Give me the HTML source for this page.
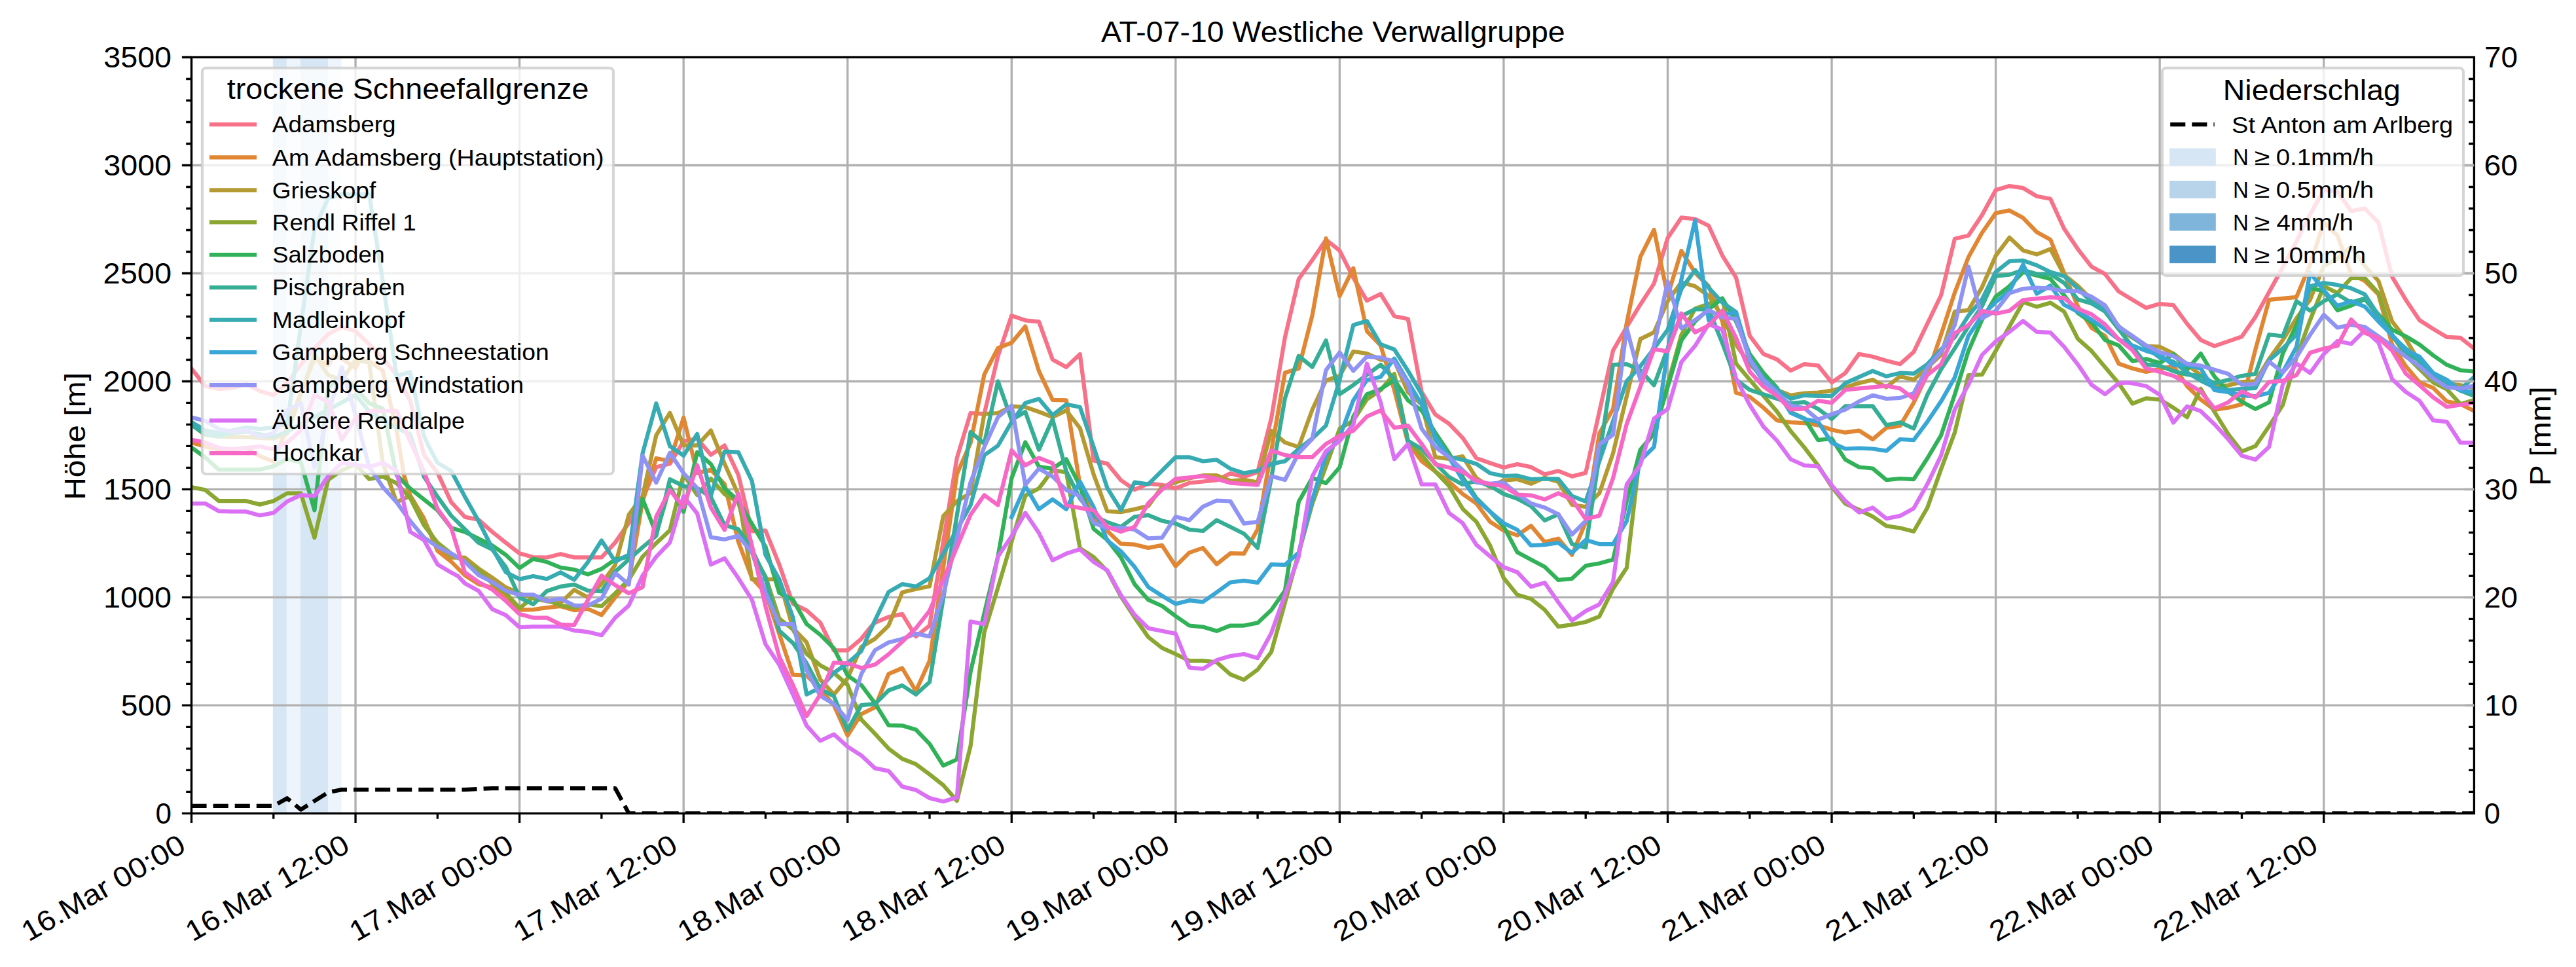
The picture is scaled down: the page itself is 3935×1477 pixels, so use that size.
<!DOCTYPE html><html><head><meta charset="utf-8"><style>html,body{margin:0;padding:0;background:#fff;}svg{display:block;}text{font-family:"Liberation Sans",sans-serif;}</style></head><body>
<svg width="3935" height="1477" viewBox="0 0 3935 1477">
<rect width="3935" height="1477" fill="#fff"/>
<defs><clipPath id="ax"><rect x="292.5" y="87.5" width="3486.9" height="1154.9"/></clipPath></defs>
<rect x="416.80" y="87.5" width="21.10" height="1154.90" fill="#d6e6f4"/>
<rect x="437.90" y="87.5" width="21.00" height="1154.90" fill="#eef4fb"/>
<rect x="458.90" y="87.5" width="42.10" height="1154.90" fill="#d6e6f4"/>
<rect x="501.00" y="87.5" width="20.70" height="1154.90" fill="#eef4fb"/>
<path d="M292.50 87.5V1242.4M543.06 87.5V1242.4M793.61 87.5V1242.4M1044.17 87.5V1242.4M1294.72 87.5V1242.4M1545.28 87.5V1242.4M1795.83 87.5V1242.4M2046.39 87.5V1242.4M2296.95 87.5V1242.4M2547.50 87.5V1242.4M2798.06 87.5V1242.4M3048.61 87.5V1242.4M3299.17 87.5V1242.4M3549.72 87.5V1242.4M292.5 1077.41H3779.4M292.5 912.43H3779.4M292.5 747.44H3779.4M292.5 582.46H3779.4M292.5 417.47H3779.4M292.5 252.49H3779.4" stroke="#b0b0b0" stroke-width="3.33" fill="none"/>
<g clip-path="url(#ax)" fill="none" stroke-width="6.25" stroke-linejoin="round" stroke-linecap="square">
<path d="M292.5 563.1 L313.4 589.5 L334.3 594.1 L355.1 592.6 L376.0 586.4 L396.9 597.2 L417.8 603.4 L438.7 584.8 L459.5 556.9 L480.4 532.1 L501.3 510.3 L522.2 499.5 L543.1 505.7 L563.9 525.8 L584.8 547.6 L605.7 572.4 L626.6 612.3 L647.5 694.6 L668.3 722.1 L689.2 766.9 L710.1 789.6 L731.0 793.8 L751.9 812.4 L772.7 829.0 L793.6 845.3 L814.5 851.0 L835.4 851.5 L856.3 846.2 L877.1 851.4 L898.0 851.4 L918.9 851.4 L939.8 828.6 L960.6 798.6 L981.5 762.1 L1002.4 713.5 L1023.3 708.3 L1044.2 674.1 L1065.0 670.0 L1085.9 694.8 L1106.8 680.4 L1127.7 724.8 L1148.6 811.4 L1169.4 810.3 L1190.3 862.1 L1211.2 922.1 L1232.1 932.4 L1253.0 951.0 L1273.8 993.4 L1294.7 993.4 L1315.6 975.8 L1330.0 957.6 L1336.5 951.0 L1357.4 942.4 L1378.2 937.8 L1399.1 972.1 L1420.0 955.5 L1461.8 699.3 L1482.6 631.0 L1503.5 632.1 L1524.4 544.1 L1545.3 482.1 L1566.2 489.3 L1587.0 491.4 L1607.9 549.3 L1628.8 560.7 L1649.7 541.0 L1670.6 703.5 L1691.4 708.1 L1712.3 733.5 L1733.2 747.9 L1754.1 738.6 L1775.0 740.7 L1795.8 745.9 L1816.7 737.6 L1837.6 735.5 L1858.5 733.5 L1879.4 723.1 L1900.2 728.3 L1921.1 721.0 L1942.0 638.9 L1962.9 515.2 L1983.8 426.2 L2004.6 397.2 L2025.5 366.2 L2046.4 382.8 L2067.3 424.1 L2088.1 459.3 L2109.0 449.0 L2129.9 482.9 L2150.8 487.2 L2171.7 599.0 L2192.5 633.1 L2213.4 647.1 L2234.3 668.8 L2255.2 699.7 L2276.1 707.2 L2296.9 714.0 L2317.8 709.0 L2338.7 713.4 L2359.6 724.5 L2380.5 719.3 L2401.3 727.6 L2422.2 722.4 L2464.0 535.5 L2484.9 499.3 L2505.7 465.2 L2526.6 433.1 L2547.5 363.5 L2568.4 332.4 L2589.3 334.5 L2610.1 344.8 L2631.0 390.3 L2651.9 423.8 L2672.8 512.8 L2693.7 540.7 L2714.5 549.0 L2735.4 566.0 L2756.3 556.2 L2777.2 558.3 L2798.1 584.1 L2818.9 569.7 L2839.8 540.7 L2860.7 544.8 L2881.6 551.0 L2902.5 556.2 L2923.3 537.6 L2965.1 451.0 L2986.0 364.8 L3006.9 359.7 L3027.7 328.6 L3048.6 290.3 L3069.5 284.1 L3090.4 287.2 L3111.3 299.7 L3132.1 303.8 L3153.0 349.3 L3173.9 380.3 L3194.8 407.2 L3215.6 418.6 L3236.5 445.2 L3257.4 457.9 L3278.3 470.3 L3299.2 464.1 L3320.0 466.2 L3340.9 494.5 L3361.8 519.3 L3382.7 528.6 L3403.6 521.4 L3424.4 514.2 L3445.3 484.1 L3487.1 408.3 L3508.0 369.0 L3528.8 327.6 L3549.7 290.3 L3570.6 292.4 L3591.5 322.4 L3612.4 318.3 L3633.2 340.0 L3654.1 422.8 L3675.0 457.9 L3695.9 489.0 L3716.8 502.4 L3737.6 514.8 L3758.5 515.9 L3779.4 532.4" stroke="#f77189"/>
<path d="M292.5 675.9 L313.4 682.1 L334.3 686.2 L355.1 686.2 L376.0 684.2 L396.9 696.6 L417.8 704.8 L480.4 547.6 L501.3 557.9 L509.2 544.5 L522.2 547.6 L543.1 562.1 L549.5 549.1 L563.9 551.7 L584.8 566.2 L605.7 656.5 L617.0 725.5 L626.6 756.6 L647.5 791.7 L668.3 841.4 L689.2 857.9 L710.1 878.6 L731.0 892.1 L751.9 897.2 L772.7 909.7 L793.6 931.7 L814.5 931.2 L835.4 928.1 L856.3 925.9 L877.1 932.1 L898.0 930.0 L918.9 939.3 L939.8 912.4 L960.6 887.6 L981.5 766.2 L1002.4 700.0 L1023.3 704.2 L1044.2 637.9 L1065.0 722.8 L1085.9 717.6 L1106.8 739.3 L1127.7 826.9 L1148.6 882.8 L1169.4 905.5 L1211.2 1030.7 L1232.1 1031.7 L1253.0 1052.4 L1273.8 1077.2 L1294.7 1123.5 L1315.6 1090.7 L1336.5 1080.4 L1357.4 1029.3 L1378.2 1020.5 L1399.1 1055.5 L1420.0 1009.3 L1461.8 724.1 L1482.6 676.6 L1503.5 572.1 L1524.4 531.7 L1545.3 523.5 L1566.2 498.6 L1587.0 566.9 L1607.9 610.9 L1628.8 611.4 L1649.7 740.7 L1670.6 792.9 L1691.4 811.0 L1712.3 830.7 L1733.2 831.7 L1754.1 836.9 L1775.0 832.8 L1795.8 864.8 L1816.7 844.1 L1837.6 836.9 L1858.5 861.7 L1879.4 845.2 L1900.2 845.7 L1921.1 808.5 L1962.9 569.2 L1983.8 563.0 L2004.6 481.7 L2025.5 364.1 L2046.4 452.1 L2067.3 409.7 L2088.1 505.9 L2109.0 527.6 L2129.9 595.9 L2150.8 676.5 L2171.7 704.4 L2192.5 720.0 L2213.4 735.7 L2234.3 754.5 L2255.2 769.0 L2276.1 796.9 L2296.9 810.3 L2317.8 817.6 L2338.7 803.1 L2359.6 827.9 L2380.5 822.7 L2401.3 847.6 L2422.2 797.9 L2443.1 662.0 L2464.0 624.8 L2484.9 493.1 L2505.7 392.4 L2526.6 351.0 L2547.5 451.7 L2568.4 383.1 L2589.3 416.5 L2610.1 437.2 L2631.0 491.0 L2651.9 599.8 L2672.8 606.1 L2693.7 622.6 L2714.5 642.1 L2735.4 645.2 L2756.3 646.2 L2777.2 649.3 L2798.1 656.5 L2818.9 660.7 L2839.8 657.6 L2860.7 671.0 L2881.6 653.4 L2902.5 650.3 L2923.3 615.2 L2944.2 571.7 L2965.1 511.0 L2986.0 446.9 L3006.9 392.8 L3027.7 355.5 L3048.6 325.5 L3069.5 321.4 L3090.4 332.8 L3111.3 354.5 L3132.1 365.9 L3173.9 467.6 L3194.8 500.7 L3215.6 513.1 L3236.5 555.5 L3257.4 562.8 L3278.3 567.9 L3299.2 563.8 L3320.0 558.6 L3340.9 589.7 L3361.8 610.3 L3382.7 625.8 L3403.6 622.7 L3424.4 617.6 L3445.3 533.8 L3466.2 457.9 L3487.1 455.8 L3508.0 453.8 L3528.8 404.1 L3549.7 340.0 L3570.6 359.7 L3591.5 418.6 L3612.4 429.0 L3633.2 449.6 L3654.1 526.2 L3675.0 559.3 L3695.9 584.1 L3716.8 592.4 L3737.6 613.1 L3758.5 617.2 L3779.4 627.6" stroke="#e18632"/>
<path d="M292.5 648.3 L313.4 664.4 L334.3 666.6 L355.1 667.6 L376.0 667.6 L396.9 668.9 L417.8 669.9 L438.7 662.3 L459.5 602.7 L480.4 541.4 L501.3 572.7 L522.2 581.0 L543.1 549.7 L563.9 553.8 L584.8 707.4 L605.7 766.9 L626.6 757.6 L647.5 795.8 L668.3 833.1 L689.2 851.7 L710.1 851.7 L731.0 868.3 L751.9 882.4 L772.7 897.2 L793.6 906.4 L814.5 914.1 L835.4 918.3 L856.3 920.7 L877.1 901.0 L898.0 912.4 L918.9 891.7 L939.8 862.8 L960.6 786.2 L981.5 757.9 L1002.4 664.8 L1023.3 630.7 L1044.2 680.4 L1065.0 680.4 L1085.9 657.6 L1106.8 708.3 L1127.7 755.2 L1148.6 884.8 L1169.4 884.8 L1190.3 884.8 L1211.2 959.3 L1232.1 981.0 L1253.0 1037.9 L1273.8 1060.7 L1294.7 1035.9 L1315.6 988.3 L1336.5 975.8 L1357.4 955.4 L1378.2 904.8 L1399.1 899.7 L1420.0 895.5 L1440.9 788.3 L1461.8 765.5 L1482.6 753.1 L1503.5 632.1 L1524.4 631.0 L1545.3 620.7 L1566.2 621.7 L1587.0 629.0 L1607.9 637.2 L1628.8 626.9 L1649.7 653.8 L1670.6 724.6 L1691.4 781.0 L1712.3 782.1 L1733.2 777.9 L1754.1 772.8 L1775.0 743.8 L1795.8 736.6 L1816.7 730.4 L1837.6 726.2 L1858.5 726.2 L1879.4 734.5 L1900.2 732.9 L1921.1 736.6 L1942.0 657.9 L1962.9 675.9 L1983.8 682.7 L2004.6 625.7 L2025.5 581.0 L2046.4 574.1 L2067.3 536.9 L2088.1 540.0 L2109.0 549.3 L2129.9 550.8 L2150.8 599.0 L2171.7 617.6 L2192.5 698.2 L2213.4 700.9 L2234.3 697.2 L2255.2 730.1 L2276.1 743.8 L2296.9 733.8 L2317.8 732.0 L2338.7 738.8 L2359.6 729.7 L2380.5 735.9 L2401.3 771.0 L2422.2 774.1 L2443.1 753.4 L2464.0 692.4 L2505.7 517.9 L2526.6 507.6 L2547.5 460.0 L2568.4 431.0 L2589.3 437.2 L2610.1 451.7 L2631.0 483.5 L2651.9 526.4 L2672.8 556.1 L2693.7 577.5 L2714.5 595.7 L2735.4 603.8 L2756.3 600.7 L2777.2 599.6 L2798.1 596.5 L2818.9 591.4 L2839.8 585.2 L2860.7 580.0 L2881.6 591.4 L2902.5 574.8 L2923.3 580.0 L2944.2 561.4 L2965.1 541.9 L2986.0 475.9 L3006.9 473.8 L3027.7 438.6 L3048.6 390.7 L3069.5 362.8 L3090.4 382.4 L3111.3 388.6 L3132.1 380.3 L3153.0 419.6 L3173.9 436.4 L3194.8 457.2 L3215.6 475.9 L3236.5 502.8 L3278.3 528.6 L3299.2 529.7 L3320.0 540.0 L3382.7 589.7 L3403.6 588.6 L3424.4 583.4 L3445.3 582.4 L3466.2 548.3 L3487.1 519.3 L3508.0 486.2 L3528.8 457.9 L3549.7 406.2 L3570.6 394.8 L3591.5 376.2 L3612.4 406.2 L3633.2 429.0 L3654.1 491.0 L3675.0 517.9 L3695.9 553.1 L3716.8 575.9 L3737.6 586.2 L3758.5 588.3 L3779.4 592.4" stroke="#b59a32"/>
<path d="M292.5 744.1 L313.4 748.3 L334.3 765.2 L355.1 765.2 L376.0 765.2 L396.9 770.6 L417.8 765.2 L438.7 753.4 L459.5 753.4 L480.4 821.3 L501.3 732.8 L522.2 718.3 L543.1 709.0 L563.9 731.7 L584.8 728.0 L605.7 737.9 L626.6 760.7 L647.5 802.1 L668.3 829.0 L689.2 845.5 L710.1 857.9 L731.0 870.4 L751.9 891.0 L772.7 905.5 L793.6 929.1 L814.5 912.1 L835.4 916.6 L856.3 924.8 L877.1 927.9 L898.0 922.8 L918.9 925.9 L939.8 906.2 L960.6 885.5 L981.5 850.4 L1002.4 829.6 L1023.3 810.0 L1044.2 724.8 L1065.0 755.9 L1085.9 731.0 L1106.8 754.7 L1127.7 766.5 L1148.6 843.5 L1169.4 880.7 L1190.3 944.8 L1211.2 961.4 L1232.1 998.6 L1253.0 1016.2 L1273.8 1027.6 L1294.7 1046.2 L1315.6 1099.0 L1336.5 1120.7 L1357.4 1143.4 L1378.2 1159.0 L1399.1 1167.2 L1420.0 1182.8 L1440.9 1199.3 L1461.8 1223.1 L1482.6 1139.3 L1503.5 965.9 L1524.4 897.6 L1566.2 757.1 L1587.0 746.1 L1607.9 718.1 L1628.8 721.3 L1649.7 837.3 L1670.6 850.9 L1691.4 872.1 L1712.3 911.0 L1733.2 943.1 L1754.1 973.1 L1775.0 989.6 L1795.8 999.0 L1816.7 1009.3 L1837.6 1009.3 L1858.5 1011.4 L1879.4 1030.0 L1900.2 1038.3 L1921.1 1022.8 L1942.0 995.9 L2004.6 769.6 L2046.4 654.8 L2067.3 642.4 L2088.1 609.8 L2109.0 595.9 L2129.9 571.0 L2150.8 673.4 L2171.7 695.1 L2192.5 720.0 L2213.4 742.1 L2234.3 777.2 L2255.2 796.9 L2276.1 833.1 L2296.9 882.8 L2317.8 908.6 L2338.7 914.8 L2359.6 931.4 L2380.5 957.2 L2401.3 954.1 L2422.2 950.0 L2443.1 941.7 L2464.0 899.3 L2484.9 867.3 L2505.7 688.9 L2526.6 662.0 L2568.4 511.7 L2589.3 471.4 L2610.1 464.1 L2631.0 455.8 L2651.9 555.2 L2672.8 580.0 L2714.5 628.6 L2735.4 658.6 L2756.3 683.5 L2777.2 710.8 L2798.1 743.5 L2818.9 769.3 L2839.8 778.6 L2860.7 789.0 L2881.6 803.4 L2902.5 806.5 L2923.3 811.7 L2944.2 775.5 L2965.1 716.6 L2986.0 660.7 L3006.9 573.1 L3027.7 572.1 L3048.6 535.9 L3069.5 498.6 L3090.4 461.4 L3111.3 468.6 L3132.1 462.4 L3153.0 475.9 L3173.9 517.3 L3194.8 535.9 L3215.6 560.7 L3236.5 585.5 L3257.4 616.5 L3278.3 608.3 L3299.2 610.3 L3320.0 622.7 L3340.9 637.2 L3361.8 593.8 L3382.7 629.0 L3403.6 662.9 L3424.4 689.7 L3445.3 681.4 L3466.2 651.0 L3487.1 618.6 L3508.0 545.5 L3528.8 489.0 L3549.7 437.2 L3570.6 447.6 L3591.5 424.8 L3612.4 424.8 L3633.2 447.6 L3654.1 511.7 L3675.0 542.8 L3695.9 563.5 L3716.8 584.1 L3737.6 594.5 L3758.5 617.2 L3779.4 611.0" stroke="#8ba731"/>
<path d="M292.5 683.6 L313.4 698.6 L334.3 717.3 L355.1 717.3 L376.0 717.3 L396.9 717.3 L417.8 712.1 L438.7 701.2 L459.5 705.9 L480.4 779.3 L501.3 593.1 L522.2 572.4 L543.1 593.1 L563.9 615.9 L584.8 624.1 L605.7 725.5 L626.6 746.2 L647.5 762.8 L668.3 779.3 L689.2 806.2 L710.1 812.4 L731.0 822.7 L751.9 833.1 L772.7 847.6 L793.6 867.6 L814.5 853.6 L835.4 858.3 L856.3 866.9 L877.1 870.0 L898.0 877.3 L918.9 869.0 L939.8 854.5 L960.6 850.4 L981.5 762.0 L1002.4 815.3 L1023.3 743.3 L1044.2 781.7 L1065.0 690.6 L1085.9 708.8 L1106.8 745.9 L1127.7 764.5 L1148.6 800.0 L1169.4 835.2 L1190.3 905.5 L1211.2 915.9 L1232.1 953.1 L1253.0 969.6 L1273.8 990.3 L1294.7 1031.7 L1315.6 1046.2 L1336.5 1074.1 L1357.4 1107.8 L1378.2 1108.3 L1399.1 1114.5 L1420.0 1136.2 L1440.9 1169.3 L1461.8 1160.0 L1482.6 1025.9 L1503.5 936.9 L1524.4 850.0 L1545.3 730.4 L1566.2 675.5 L1587.0 712.8 L1607.9 715.9 L1628.8 701.4 L1649.7 742.2 L1670.6 807.9 L1691.4 824.5 L1712.3 851.4 L1733.2 892.4 L1754.1 916.2 L1775.0 925.5 L1795.8 941.0 L1816.7 955.5 L1837.6 957.6 L1858.5 963.8 L1879.4 955.5 L1900.2 955.5 L1921.1 951.4 L1942.0 931.7 L1962.9 902.1 L1983.8 766.5 L2004.6 729.9 L2025.5 738.0 L2046.4 713.8 L2067.3 636.2 L2088.1 602.1 L2109.0 594.3 L2129.9 580.3 L2150.8 611.4 L2171.7 626.9 L2192.5 661.0 L2213.4 692.0 L2234.3 728.9 L2255.2 760.7 L2276.1 781.4 L2296.9 804.1 L2317.8 843.5 L2338.7 854.8 L2359.6 865.7 L2380.5 885.9 L2401.3 883.8 L2422.2 864.2 L2443.1 860.5 L2464.0 854.8 L2484.9 765.4 L2505.7 686.9 L2526.6 662.0 L2568.4 520.0 L2589.3 491.0 L2610.1 472.4 L2631.0 455.8 L2651.9 491.0 L2672.8 540.7 L2693.7 569.7 L2714.5 592.4 L2735.4 629.6 L2756.3 639.0 L2777.2 672.1 L2798.1 670.0 L2818.9 702.1 L2839.8 713.5 L2860.7 715.5 L2881.6 733.1 L2902.5 731.0 L2923.3 732.1 L2944.2 700.0 L2965.1 664.8 L2986.0 602.8 L3006.9 535.9 L3027.7 488.3 L3048.6 453.1 L3069.5 437.2 L3090.4 415.5 L3132.1 425.9 L3153.0 451.0 L3173.9 477.9 L3194.8 492.4 L3215.6 519.3 L3236.5 527.6 L3257.4 551.4 L3278.3 548.3 L3299.2 554.5 L3320.0 541.0 L3340.9 564.8 L3361.8 540.0 L3382.7 575.2 L3403.6 597.9 L3424.4 613.4 L3445.3 624.8 L3466.2 614.5 L3487.1 540.0 L3508.0 496.6 L3528.8 440.3 L3549.7 444.5 L3570.6 474.0 L3591.5 466.7 L3612.4 456.9 L3654.1 503.5 L3675.0 513.8 L3695.9 526.2 L3716.8 542.8 L3737.6 557.2 L3758.5 565.5 L3779.4 567.6" stroke="#32b258"/>
<path d="M292.5 649.0 L313.4 663.4 L334.3 666.6 L355.1 661.4 L376.0 659.3 L396.9 663.4 L417.8 667.6 L438.7 659.3 L543.1 603.4 L563.9 628.3 L584.8 642.7 L605.7 653.1 L626.6 663.4 L647.5 728.1 L668.3 758.6 L689.2 787.6 L710.1 808.3 L731.0 829.0 L751.9 839.3 L772.7 866.2 L793.6 912.6 L814.5 922.9 L835.4 902.8 L856.3 895.9 L877.1 892.8 L898.0 902.1 L918.9 903.1 L939.8 873.1 L960.6 854.5 L981.5 835.9 L1002.4 818.3 L1023.3 732.1 L1044.2 742.4 L1065.0 745.5 L1085.9 759.3 L1106.8 802.1 L1127.7 808.3 L1148.6 839.3 L1169.4 882.8 L1190.3 963.4 L1211.2 982.1 L1232.1 1013.1 L1253.0 1052.4 L1273.8 1063.3 L1294.7 1115.5 L1315.6 1077.2 L1336.5 1075.2 L1357.4 1054.5 L1378.2 1047.0 L1399.1 1060.7 L1420.0 1041.7 L1482.6 660.0 L1503.5 677.6 L1524.4 582.4 L1545.3 641.4 L1566.2 629.0 L1587.0 686.9 L1607.9 640.3 L1628.8 720.0 L1649.7 761.4 L1670.6 787.8 L1691.4 797.6 L1712.3 804.8 L1733.2 789.3 L1754.1 786.8 L1775.0 795.5 L1795.8 799.6 L1816.7 808.9 L1837.6 811.0 L1858.5 794.5 L1879.4 804.8 L1900.2 815.2 L1921.1 836.9 L1942.0 730.4 L1962.9 608.3 L1983.8 543.7 L2004.6 560.5 L2025.5 520.1 L2046.4 602.1 L2067.3 588.1 L2088.1 572.6 L2109.0 557.0 L2129.9 578.8 L2150.8 673.4 L2171.7 685.8 L2192.5 707.5 L2213.4 728.6 L2234.3 740.0 L2255.2 734.8 L2276.1 742.1 L2296.9 754.5 L2317.8 761.7 L2338.7 773.1 L2359.6 794.8 L2380.5 785.5 L2401.3 831.0 L2422.2 836.2 L2464.0 557.2 L2484.9 556.2 L2505.7 565.5 L2526.6 588.3 L2547.5 532.4 L2568.4 482.8 L2589.3 472.4 L2610.1 472.4 L2631.0 524.2 L2651.9 580.0 L2672.8 595.5 L2714.5 609.0 L2735.4 616.2 L2756.3 614.1 L2777.2 624.5 L2798.1 640.0 L2818.9 620.3 L2839.8 620.3 L2860.7 620.3 L2881.6 649.3 L2902.5 645.2 L2923.3 654.5 L2944.2 602.8 L2965.1 564.1 L2986.0 532.1 L3006.9 498.6 L3027.7 467.6 L3048.6 421.7 L3069.5 419.6 L3090.4 412.4 L3111.3 418.6 L3132.1 418.6 L3153.0 432.1 L3173.9 457.2 L3194.8 463.4 L3215.6 475.9 L3236.5 502.8 L3278.3 556.6 L3299.2 558.6 L3320.0 566.9 L3340.9 572.1 L3361.8 574.1 L3382.7 585.5 L3403.6 580.3 L3424.4 574.1 L3445.3 571.0 L3466.2 511.0 L3487.1 513.5 L3508.0 460.0 L3528.8 474.5 L3549.7 460.0 L3570.6 449.6 L3591.5 462.1 L3612.4 455.8 L3654.1 511.7 L3675.0 538.6 L3695.9 551.0 L3716.8 571.7 L3737.6 586.2 L3758.5 596.5 L3779.4 604.8" stroke="#35ae95"/>
<path d="M292.5 644.8 L313.4 657.2 L334.3 661.4 L355.1 657.2 L376.0 653.1 L396.9 655.2 L417.8 653.1 L438.7 646.9 L480.4 349.3 L501.3 302.7 L522.2 296.5 L543.1 296.5 L563.9 296.5 L584.8 430.0 L605.7 574.5 L626.6 568.3 L647.5 665.5 L654.1 680.0 L668.3 706.9 L689.2 719.3 L710.1 758.6 L731.0 795.8 L751.9 837.2 L772.7 874.0 L793.6 884.6 L814.5 880.0 L835.4 884.2 L856.3 874.2 L877.1 885.5 L898.0 858.6 L918.9 825.5 L939.8 857.6 L960.6 847.2 L981.5 692.8 L1002.4 616.2 L1023.3 681.4 L1044.2 695.9 L1065.0 662.8 L1085.9 757.2 L1106.8 689.7 L1127.7 690.7 L1148.6 734.5 L1169.4 847.6 L1190.3 884.8 L1211.2 942.8 L1232.1 1060.7 L1253.0 1050.4 L1273.8 1027.6 L1294.7 1013.1 L1315.6 994.5 L1336.5 947.6 L1357.4 904.1 L1378.2 892.2 L1399.1 895.9 L1420.0 883.1 L1482.6 771.7 L1503.5 695.2 L1524.4 680.7 L1545.3 644.5 L1566.2 615.5 L1587.0 609.3 L1607.9 634.1 L1628.8 617.6 L1649.7 621.7 L1670.6 682.8 L1691.4 745.3 L1712.3 779.0 L1733.2 736.6 L1754.1 739.7 L1775.0 719.0 L1795.8 698.3 L1816.7 698.3 L1837.6 704.5 L1858.5 702.4 L1879.4 715.9 L1900.2 722.7 L1921.1 719.0 L1942.0 708.6 L1962.9 704.4 L1983.8 685.8 L2004.6 669.7 L2025.5 649.9 L2046.4 580.3 L2067.3 496.5 L2088.1 490.3 L2109.0 526.0 L2129.9 533.8 L2150.8 566.4 L2171.7 602.1 L2192.5 671.9 L2213.4 697.8 L2234.3 702.2 L2255.2 708.4 L2276.1 722.7 L2296.9 727.0 L2317.8 726.4 L2338.7 732.0 L2359.6 731.3 L2380.5 731.7 L2401.3 757.6 L2422.2 765.9 L2484.9 582.1 L2505.7 559.3 L2526.6 532.4 L2547.5 503.5 L2568.4 441.4 L2589.3 412.4 L2610.1 439.3 L2631.0 462.1 L2651.9 476.5 L2672.8 546.2 L2693.7 577.5 L2714.5 595.0 L2735.4 609.0 L2756.3 603.8 L2777.2 604.8 L2798.1 604.8 L2818.9 585.2 L2839.8 575.9 L2860.7 566.6 L2881.6 574.8 L2902.5 569.7 L2923.3 570.7 L2944.2 556.2 L2965.1 533.6 L2986.0 515.2 L3006.9 482.1 L3027.7 457.2 L3048.6 415.5 L3069.5 399.0 L3090.4 397.9 L3111.3 405.2 L3132.1 415.5 L3153.0 421.7 L3173.9 440.3 L3194.8 461.4 L3215.6 473.8 L3236.5 498.6 L3299.2 546.2 L3320.0 552.4 L3340.9 569.0 L3361.8 581.4 L3382.7 591.7 L3403.6 595.9 L3424.4 593.8 L3445.3 592.8 L3466.2 550.4 L3487.1 532.1 L3508.0 511.4 L3528.8 437.2 L3549.7 432.1 L3570.6 435.2 L3591.5 440.3 L3612.4 449.6 L3654.1 513.8 L3675.0 532.4 L3695.9 549.0 L3716.8 573.8 L3737.6 586.2 L3758.5 594.5 L3779.4 575.9" stroke="#37abb2"/>
<path d="M1545.3 789.8 L1566.2 742.4 L1587.0 777.8 L1607.9 762.7 L1628.8 777.8 L1649.7 735.5 L1670.6 774.6 L1691.4 825.5 L1712.3 842.1 L1733.2 865.9 L1754.1 896.6 L1775.0 910.0 L1795.8 922.4 L1816.7 917.2 L1837.6 919.3 L1858.5 904.8 L1879.4 889.5 L1900.2 886.8 L1921.1 889.9 L1942.0 862.2 L1962.9 862.8 L1983.8 844.1 L2004.6 763.4 L2025.5 695.1 L2046.4 667.2 L2067.3 611.4 L2088.1 580.3 L2109.0 575.7 L2129.9 547.7 L2150.8 583.4 L2171.7 617.6 L2192.5 667.2 L2213.4 698.5 L2234.3 733.2 L2255.2 762.8 L2276.1 781.4 L2296.9 799.0 L2317.8 809.3 L2338.7 833.1 L2359.6 832.1 L2380.5 829.0 L2401.3 844.5 L2422.2 824.8 L2443.1 831.0 L2464.0 831.0 L2484.9 795.8 L2505.7 703.4 L2526.6 682.7 L2547.5 534.5 L2568.4 426.9 L2589.3 336.6 L2610.1 489.0 L2631.0 479.7 L2651.9 477.6 L2672.8 551.1 L2693.7 582.5 L2714.5 597.3 L2735.4 630.7 L2756.3 640.0 L2777.2 644.1 L2798.1 676.2 L2818.9 685.5 L2839.8 684.5 L2860.7 685.5 L2881.6 688.6 L2902.5 671.0 L2923.3 672.1 L2944.2 644.1 L2965.1 613.1 L2986.0 576.6 L3006.9 513.1 L3027.7 482.1 L3048.6 461.4 L3069.5 444.8 L3090.4 404.1 L3111.3 448.6 L3132.1 436.2 L3153.0 465.5 L3173.9 475.9 L3194.8 488.3 L3215.6 502.8 L3236.5 518.3 L3257.4 527.6 L3278.3 535.9 L3299.2 542.1 L3320.0 557.6 L3340.9 557.6 L3361.8 562.8 L3382.7 595.9 L3403.6 599.0 L3424.4 604.1 L3445.3 605.2 L3466.2 600.0 L3487.1 568.3 L3508.0 530.0 L3528.8 416.5 L3549.7 443.4 L3570.6 467.2 L3591.5 460.0 L3612.4 468.3 L3633.2 491.0 L3654.1 511.7 L3675.0 534.5 L3695.9 544.8 L3716.8 569.7 L3737.6 580.0 L3758.5 596.5 L3779.4 598.6" stroke="#39a7d6"/>
<path d="M292.5 637.6 L313.4 642.7 L334.3 655.2 L355.1 659.3 L376.0 657.2 L396.9 667.6 L417.8 661.4 L438.7 626.2 L459.5 615.9 L480.4 714.1 L501.3 632.4 L522.2 561.0 L543.1 634.5 L563.9 713.1 L584.8 744.1 L605.7 766.9 L626.6 795.8 L647.5 820.7 L668.3 835.2 L689.2 845.5 L710.1 857.9 L731.0 878.3 L751.9 889.0 L772.7 902.4 L793.6 908.4 L814.5 908.4 L835.4 918.3 L856.3 914.5 L877.1 924.8 L898.0 924.8 L918.9 914.5 L939.8 875.2 L960.6 892.8 L981.5 695.9 L1002.4 737.2 L1023.3 691.7 L1044.2 722.8 L1065.0 745.5 L1085.9 820.7 L1106.8 823.8 L1127.7 818.6 L1148.6 843.5 L1169.4 905.5 L1190.3 953.1 L1211.2 953.1 L1232.1 1023.5 L1253.0 1062.8 L1273.8 1075.2 L1294.7 1099.5 L1315.6 1029.7 L1336.5 993.1 L1357.4 981.2 L1378.2 976.0 L1399.1 967.9 L1420.0 972.1 L1440.9 907.9 L1482.6 736.6 L1503.5 682.8 L1524.4 637.2 L1545.3 619.6 L1566.2 740.6 L1587.0 715.8 L1607.9 727.7 L1628.8 748.4 L1649.7 757.6 L1670.6 798.6 L1691.4 806.9 L1712.3 805.8 L1733.2 808.9 L1754.1 822.4 L1775.0 821.4 L1795.8 789.3 L1816.7 794.5 L1837.6 773.8 L1858.5 764.5 L1879.4 765.5 L1900.2 799.6 L1921.1 797.1 L1942.0 727.2 L1962.9 733.0 L1983.8 692.0 L2004.6 670.3 L2025.5 565.4 L2046.4 538.4 L2067.3 566.4 L2088.1 544.6 L2109.0 546.2 L2129.9 552.4 L2150.8 586.5 L2171.7 654.8 L2192.5 682.7 L2213.4 698.2 L2234.3 718.3 L2255.2 736.9 L2276.1 738.8 L2296.9 736.9 L2317.8 754.5 L2338.7 769.0 L2359.6 775.2 L2380.5 785.5 L2401.3 816.5 L2422.2 795.8 L2443.1 678.6 L2464.0 664.1 L2484.9 501.4 L2505.7 580.0 L2526.6 528.3 L2547.5 430.0 L2568.4 501.4 L2589.3 489.0 L2610.1 473.4 L2631.0 484.8 L2651.9 486.9 L2672.8 549.0 L2693.7 580.0 L2735.4 619.3 L2756.3 623.4 L2777.2 641.0 L2798.1 632.7 L2818.9 625.5 L2839.8 613.1 L2860.7 603.8 L2881.6 609.0 L2902.5 607.9 L2923.3 600.7 L2944.2 561.4 L2965.1 537.3 L2986.0 496.6 L3006.9 407.2 L3027.7 486.2 L3048.6 474.8 L3069.5 447.9 L3090.4 441.0 L3111.3 439.5 L3132.1 440.5 L3153.0 444.7 L3173.9 444.7 L3194.8 453.1 L3215.6 466.5 L3236.5 499.1 L3257.4 513.1 L3278.3 527.6 L3299.2 537.9 L3320.0 544.1 L3340.9 555.5 L3361.8 558.6 L3382.7 564.8 L3403.6 571.0 L3424.4 587.6 L3445.3 586.5 L3466.2 552.4 L3487.1 568.8 L3508.0 545.5 L3528.8 511.4 L3549.7 480.7 L3570.6 500.4 L3591.5 496.2 L3612.4 499.3 L3633.2 513.8 L3654.1 528.3 L3675.0 544.8 L3695.9 559.3 L3716.8 577.9 L3737.6 591.4 L3758.5 593.4 L3779.4 589.3" stroke="#8f93f4"/>
<path d="M292.5 769.0 L313.4 769.0 L334.3 780.8 L355.1 781.4 L376.0 781.4 L396.9 787.2 L417.8 783.4 L438.7 765.9 L459.5 756.2 L480.4 757.6 L501.3 727.6 L522.2 706.9 L563.9 713.1 L584.8 706.9 L605.7 719.3 L626.6 812.4 L647.5 824.8 L668.3 862.1 L689.2 874.5 L699.7 880.1 L710.1 891.0 L731.0 902.4 L751.9 930.3 L772.7 939.7 L793.6 958.1 L814.5 957.1 L835.4 957.1 L856.3 956.9 L877.1 963.1 L898.0 965.2 L918.9 970.3 L939.8 943.4 L960.6 924.8 L981.5 879.3 L1002.4 850.4 L1023.3 828.6 L1044.2 758.1 L1065.0 784.2 L1085.9 862.4 L1106.8 852.8 L1127.7 882.8 L1148.6 915.9 L1169.4 984.1 L1190.3 1015.2 L1211.2 1060.7 L1232.1 1108.3 L1253.0 1131.5 L1273.8 1121.7 L1294.7 1140.3 L1315.6 1153.8 L1336.5 1173.4 L1357.4 1177.6 L1378.2 1201.4 L1399.1 1206.6 L1420.0 1219.0 L1440.9 1224.2 L1461.8 1217.9 L1482.6 949.3 L1503.5 953.4 L1524.4 850.0 L1545.3 819.1 L1566.2 783.3 L1587.0 814.1 L1607.9 855.8 L1628.8 845.6 L1649.7 839.0 L1670.6 858.3 L1691.4 871.1 L1712.3 909.0 L1733.2 939.0 L1754.1 959.6 L1775.0 963.8 L1795.8 967.9 L1816.7 1019.7 L1837.6 1021.7 L1858.5 1008.3 L1879.4 1002.1 L1900.2 999.0 L1921.1 1005.2 L1942.0 966.9 L1983.8 850.4 L2004.6 727.4 L2025.5 688.9 L2046.4 673.4 L2067.3 648.6 L2088.1 555.5 L2109.0 614.5 L2129.9 701.3 L2150.8 678.1 L2171.7 739.9 L2192.5 739.9 L2213.4 783.4 L2234.3 799.0 L2255.2 832.1 L2276.1 849.7 L2296.9 866.2 L2317.8 874.0 L2338.7 896.2 L2359.6 890.0 L2380.5 920.0 L2401.3 947.9 L2422.2 933.4 L2443.1 923.1 L2464.0 889.0 L2484.9 740.0 L2505.7 709.9 L2526.6 639.3 L2547.5 624.8 L2568.4 553.1 L2589.3 528.3 L2610.1 495.2 L2631.0 503.5 L2651.9 577.9 L2672.8 618.5 L2693.7 651.5 L2714.5 673.1 L2735.4 701.5 L2756.3 710.8 L2777.2 712.4 L2798.1 741.4 L2818.9 765.2 L2839.8 782.7 L2860.7 775.5 L2881.6 792.1 L2902.5 787.9 L2923.3 776.5 L2944.2 739.3 L2965.1 695.9 L2986.0 625.5 L3006.9 587.6 L3027.7 542.1 L3048.6 521.4 L3069.5 506.9 L3090.4 490.3 L3111.3 506.9 L3132.1 507.9 L3153.0 529.7 L3173.9 556.6 L3194.8 587.6 L3215.6 602.1 L3236.5 585.5 L3250.1 584.5 L3257.4 585.5 L3278.3 589.7 L3299.2 603.1 L3320.0 645.5 L3340.9 620.7 L3361.8 627.9 L3382.7 647.9 L3403.6 670.7 L3424.4 695.9 L3445.3 702.1 L3466.2 682.4 L3487.1 586.9 L3508.0 555.3 L3528.8 569.8 L3549.7 540.7 L3570.6 521.0 L3591.5 525.2 L3612.4 504.5 L3633.2 523.1 L3654.1 579.0 L3675.0 598.6 L3695.9 612.1 L3716.8 642.1 L3737.6 644.1 L3758.5 676.2 L3779.4 676.2" stroke="#db70f4"/>
<path d="M292.5 671.7 L313.4 675.9 L334.3 684.2 L355.1 686.2 L376.0 684.2 L396.9 682.1 L417.8 686.2 L438.7 675.9 L459.5 657.2 L480.4 603.4 L501.3 613.8 L522.2 671.7 L543.1 638.6 L563.9 628.3 L605.7 627.4 L626.6 673.9 L647.5 719.8 L668.3 777.2 L689.2 806.2 L710.1 874.3 L731.0 889.0 L751.9 900.4 L772.7 917.9 L793.6 937.9 L814.5 943.6 L835.4 943.6 L856.3 953.8 L877.1 954.8 L898.0 916.6 L918.9 879.3 L939.8 893.8 L960.6 906.2 L981.5 896.9 L1002.4 789.3 L1023.3 748.6 L1044.2 774.5 L1065.0 710.4 L1085.9 775.2 L1106.8 809.3 L1127.7 753.6 L1148.6 833.1 L1169.4 926.2 L1190.3 1002.8 L1211.2 1046.2 L1232.1 1093.8 L1253.0 1060.7 L1273.8 1012.1 L1294.7 1013.1 L1315.6 1020.3 L1336.5 1015.2 L1357.4 999.3 L1378.2 980.2 L1399.1 959.6 L1420.0 932.8 L1440.9 885.2 L1482.6 786.2 L1503.5 756.2 L1524.4 771.4 L1545.3 687.9 L1566.2 710.7 L1587.0 699.3 L1607.9 707.6 L1628.8 771.7 L1649.7 775.9 L1670.6 779.5 L1691.4 804.8 L1712.3 812.1 L1733.2 804.8 L1754.1 768.6 L1775.0 747.9 L1795.8 731.4 L1816.7 729.3 L1837.6 727.2 L1858.5 731.4 L1879.4 737.6 L1900.2 739.1 L1921.1 740.7 L1942.0 688.2 L1962.9 695.1 L1983.8 698.2 L2004.6 698.2 L2025.5 678.1 L2046.4 665.7 L2067.3 657.9 L2088.1 636.2 L2109.0 626.9 L2129.9 653.3 L2150.8 650.2 L2171.7 678.1 L2192.5 709.1 L2213.4 714.0 L2234.3 720.8 L2255.2 733.8 L2276.1 739.4 L2296.9 742.5 L2317.8 755.5 L2338.7 756.6 L2359.6 762.8 L2380.5 753.4 L2401.3 762.8 L2422.2 792.7 L2443.1 787.6 L2464.0 730.5 L2484.9 647.6 L2526.6 533.5 L2547.5 536.6 L2568.4 478.6 L2589.3 507.6 L2610.1 497.2 L2631.0 474.5 L2651.9 515.9 L2672.8 567.6 L2693.7 590.3 L2714.5 604.8 L2735.4 625.5 L2756.3 624.5 L2777.2 612.1 L2798.1 615.2 L2818.9 595.5 L2839.8 593.4 L2860.7 591.4 L2881.6 589.3 L2902.5 593.4 L2923.3 609.0 L2944.2 572.8 L2965.1 556.4 L2986.0 509.0 L3006.9 496.6 L3027.7 474.8 L3048.6 479.0 L3069.5 474.8 L3090.4 458.3 L3111.3 456.2 L3132.1 454.1 L3153.0 455.2 L3173.9 471.7 L3194.8 480.0 L3215.6 495.5 L3236.5 518.3 L3257.4 534.8 L3278.3 562.8 L3299.2 567.9 L3320.0 574.1 L3340.9 585.5 L3361.8 597.9 L3382.7 623.8 L3403.6 614.5 L3424.4 597.9 L3445.3 607.2 L3466.2 583.4 L3487.1 581.7 L3508.0 572.9 L3528.8 538.8 L3549.7 532.4 L3570.6 528.3 L3591.5 487.9 L3612.4 508.6 L3633.2 515.9 L3654.1 535.5 L3675.0 570.7 L3695.9 588.3 L3716.8 606.9 L3737.6 621.4 L3758.5 618.3 L3779.4 615.2" stroke="#f667c6"/>
<path d="M292.5 1230.9 L417.8 1230.9 L438.7 1219.3 L459.5 1236.6 L501.3 1210.2 L522.2 1206.1 L710.1 1206.1 L751.9 1204.1 L939.8 1204.1 L960.6 1242.4 L3779.4 1242.4" stroke="#000" stroke-dasharray="23.1 10" stroke-linecap="butt"/>
</g>
<rect x="292.5" y="87.5" width="3486.90" height="1154.90" fill="none" stroke="#000" stroke-width="3.33" stroke-linejoin="miter"/>
<path d="M292.50 1242.4v14.6M543.06 1242.4v14.6M793.61 1242.4v14.6M1044.17 1242.4v14.6M1294.72 1242.4v14.6M1545.28 1242.4v14.6M1795.83 1242.4v14.6M2046.39 1242.4v14.6M2296.95 1242.4v14.6M2547.50 1242.4v14.6M2798.06 1242.4v14.6M3048.61 1242.4v14.6M3299.17 1242.4v14.6M3549.72 1242.4v14.6M417.78 1242.4v8.3M668.33 1242.4v8.3M918.89 1242.4v8.3M1169.44 1242.4v8.3M1420.00 1242.4v8.3M1670.56 1242.4v8.3M1921.11 1242.4v8.3M2171.67 1242.4v8.3M2422.22 1242.4v8.3M2672.78 1242.4v8.3M2923.33 1242.4v8.3M3173.89 1242.4v8.3M3424.45 1242.4v8.3M292.5 1242.40h-14.6M292.5 1077.41h-14.6M292.5 912.43h-14.6M292.5 747.44h-14.6M292.5 582.46h-14.6M292.5 417.47h-14.6M292.5 252.49h-14.6M292.5 87.50h-14.6M292.5 1209.40h-8.3M3779.4 1209.40h-8.3M292.5 1176.41h-8.3M3779.4 1176.41h-8.3M292.5 1143.41h-8.3M3779.4 1143.41h-8.3M292.5 1110.41h-8.3M3779.4 1110.41h-8.3M292.5 1044.42h-8.3M3779.4 1044.42h-8.3M292.5 1011.42h-8.3M3779.4 1011.42h-8.3M292.5 978.42h-8.3M3779.4 978.42h-8.3M292.5 945.43h-8.3M3779.4 945.43h-8.3M292.5 879.43h-8.3M3779.4 879.43h-8.3M292.5 846.43h-8.3M3779.4 846.43h-8.3M292.5 813.44h-8.3M3779.4 813.44h-8.3M292.5 780.44h-8.3M3779.4 780.44h-8.3M292.5 714.45h-8.3M3779.4 714.45h-8.3M292.5 681.45h-8.3M3779.4 681.45h-8.3M292.5 648.45h-8.3M3779.4 648.45h-8.3M292.5 615.45h-8.3M3779.4 615.45h-8.3M292.5 549.46h-8.3M3779.4 549.46h-8.3M292.5 516.46h-8.3M3779.4 516.46h-8.3M292.5 483.47h-8.3M3779.4 483.47h-8.3M292.5 450.47h-8.3M3779.4 450.47h-8.3M292.5 384.47h-8.3M3779.4 384.47h-8.3M292.5 351.48h-8.3M3779.4 351.48h-8.3M292.5 318.48h-8.3M3779.4 318.48h-8.3M292.5 285.48h-8.3M3779.4 285.48h-8.3M292.5 219.49h-8.3M3779.4 219.49h-8.3M292.5 186.49h-8.3M3779.4 186.49h-8.3M292.5 153.49h-8.3M3779.4 153.49h-8.3M292.5 120.50h-8.3M3779.4 120.50h-8.3" stroke="#000" stroke-width="3.33"/>
<path d="M3779.4 1077.41h-14.6M3779.4 912.43h-14.6M3779.4 747.44h-14.6M3779.4 582.46h-14.6M3779.4 417.47h-14.6M3779.4 252.49h-14.6" stroke="#b0b0b0" stroke-width="3.6"/>
<text transform="translate(237.40,1258.19) scale(0.9977,1)" font-size="44.17" fill="#000" >0</text>
<text transform="translate(184.81,1093.20) scale(1.0472,1)" font-size="44.17" fill="#000" >500</text>
<text transform="translate(157.94,928.22) scale(1.0596,1)" font-size="44.17" fill="#000" >1000</text>
<text transform="translate(157.94,763.23) scale(1.0596,1)" font-size="44.17" fill="#000" >1500</text>
<text transform="translate(157.54,598.24) scale(1.0638,1)" font-size="44.17" fill="#000" >2000</text>
<text transform="translate(157.54,433.26) scale(1.0638,1)" font-size="44.17" fill="#000" >2500</text>
<text transform="translate(158.24,268.27) scale(1.0565,1)" font-size="44.17" fill="#000" >3000</text>
<text transform="translate(158.24,103.29) scale(1.0565,1)" font-size="44.17" fill="#000" >3500</text>
<text transform="translate(3794.85,1258.19) scale(0.9977,1)" font-size="44.17" fill="#000" >0</text>
<text transform="translate(3795.05,1093.20) scale(1.0380,1)" font-size="44.17" fill="#000" >10</text>
<text transform="translate(3794.61,928.22) scale(1.0472,1)" font-size="44.17" fill="#000" >20</text>
<text transform="translate(3795.32,763.23) scale(1.0323,1)" font-size="44.17" fill="#000" >30</text>
<text transform="translate(3794.84,598.24) scale(1.0422,1)" font-size="44.17" fill="#000" >40</text>
<text transform="translate(3795.31,433.26) scale(1.0325,1)" font-size="44.17" fill="#000" >50</text>
<text transform="translate(3794.50,268.27) scale(1.0495,1)" font-size="44.17" fill="#000" >60</text>
<text transform="translate(3795.05,103.29) scale(1.0380,1)" font-size="44.17" fill="#000" >70</text>
<text transform="translate(43.68,1439.11) rotate(-30) scale(1.0871,1)" font-size="43.75">16.Mar 00:00</text>
<text transform="translate(294.24,1439.11) rotate(-30) scale(1.0871,1)" font-size="43.75">16.Mar 12:00</text>
<text transform="translate(544.80,1439.11) rotate(-30) scale(1.0871,1)" font-size="43.75">17.Mar 00:00</text>
<text transform="translate(795.35,1439.11) rotate(-30) scale(1.0871,1)" font-size="43.75">17.Mar 12:00</text>
<text transform="translate(1045.91,1439.11) rotate(-30) scale(1.0871,1)" font-size="43.75">18.Mar 00:00</text>
<text transform="translate(1296.46,1439.11) rotate(-30) scale(1.0871,1)" font-size="43.75">18.Mar 12:00</text>
<text transform="translate(1547.02,1439.11) rotate(-30) scale(1.0871,1)" font-size="43.75">19.Mar 00:00</text>
<text transform="translate(1797.57,1439.11) rotate(-30) scale(1.0871,1)" font-size="43.75">19.Mar 12:00</text>
<text transform="translate(2047.80,1439.30) rotate(-30) scale(1.0886,1)" font-size="43.75">20.Mar 00:00</text>
<text transform="translate(2298.35,1439.30) rotate(-30) scale(1.0886,1)" font-size="43.75">20.Mar 12:00</text>
<text transform="translate(2548.91,1439.30) rotate(-30) scale(1.0886,1)" font-size="43.75">21.Mar 00:00</text>
<text transform="translate(2799.46,1439.30) rotate(-30) scale(1.0886,1)" font-size="43.75">21.Mar 12:00</text>
<text transform="translate(3050.02,1439.30) rotate(-30) scale(1.0886,1)" font-size="43.75">22.Mar 00:00</text>
<text transform="translate(3300.58,1439.30) rotate(-30) scale(1.0886,1)" font-size="43.75">22.Mar 12:00</text>
<text transform="translate(1681.98,64.00) scale(1.0628,1)" font-size="43.75" fill="#000" >AT-07-10 Westliche Verwallgruppe</text>
<text transform="translate(129.90,763.86) rotate(-90) scale(1.0981,1)" font-size="43.75">Höhe [m]</text>
<text transform="translate(3896.10,742.28) rotate(-90) scale(1.1026,1)" font-size="43.75">P [mm]</text>
<rect x="308.9" y="103.8" width="628.1" height="620.2" rx="6" fill="#fff" fill-opacity="0.8" stroke="#cccccc" stroke-opacity="0.8" stroke-width="4.17"/>
<text transform="translate(346.70,151.10) scale(1.0674,1)" font-size="43.75" fill="#000" >trockene Schneefallgrenze</text>
<path d="M319.9 190H392" stroke="#f77189" stroke-width="6.25"/>
<text transform="translate(415.81,202.10) scale(1.0547,1)" font-size="35.00" fill="#000" >Adamsberg</text>
<path d="M319.9 240.4H392" stroke="#e18632" stroke-width="6.25"/>
<text transform="translate(415.81,252.50) scale(1.0811,1)" font-size="35.00" fill="#000" >Am Adamsberg (Hauptstation)</text>
<path d="M319.9 290.4H392" stroke="#b59a32" stroke-width="6.25"/>
<text transform="translate(415.63,302.50) scale(1.0593,1)" font-size="35.00" fill="#000" >Grieskopf</text>
<path d="M319.9 339.4H392" stroke="#8ba731" stroke-width="6.25"/>
<text transform="translate(415.87,351.50) scale(1.0492,1)" font-size="35.00" fill="#000" >Rendl Riffel 1</text>
<path d="M319.9 389H392" stroke="#32b258" stroke-width="6.25"/>
<text transform="translate(416.18,401.10) scale(1.0380,1)" font-size="35.00" fill="#000" >Salzboden</text>
<path d="M319.9 439.2H392" stroke="#35ae95" stroke-width="6.25"/>
<text transform="translate(415.89,451.30) scale(1.0426,1)" font-size="35.00" fill="#000" >Pischgraben</text>
<path d="M319.9 488.5H392" stroke="#37abb2" stroke-width="6.25"/>
<text transform="translate(415.80,500.60) scale(1.0720,1)" font-size="35.00" fill="#000" >Madleinkopf</text>
<path d="M319.9 538.2H392" stroke="#39a7d6" stroke-width="6.25"/>
<text transform="translate(415.62,550.30) scale(1.0669,1)" font-size="35.00" fill="#000" >Gampberg Schneestation</text>
<path d="M319.9 588.1H392" stroke="#8f93f4" stroke-width="6.25"/>
<text transform="translate(415.60,600.20) scale(1.0746,1)" font-size="35.00" fill="#000" >Gampberg Windstation</text>
<path d="M319.9 642.4H392" stroke="#db70f4" stroke-width="6.25"/>
<text transform="translate(415.81,654.50) scale(1.0430,1)" font-size="35.00" fill="#000" >Äußere Rendlalpe</text>
<path d="M319.9 692.2H392" stroke="#f667c6" stroke-width="6.25"/>
<text transform="translate(415.84,704.30) scale(1.0608,1)" font-size="35.00" fill="#000" >Hochkar</text>
<rect x="3302.9" y="103.9" width="460.1" height="317.0" rx="6" fill="#fff" fill-opacity="0.8" stroke="#cccccc" stroke-opacity="0.8" stroke-width="4.17"/>
<text transform="translate(3395.77,152.60) scale(1.0620,1)" font-size="43.75" fill="#000" >Niederschlag</text>
<path d="M3315.2 190.2H3382.7" stroke="#000" stroke-width="6.25" stroke-dasharray="23.1 10"/>
<text transform="translate(3409.09,202.50) scale(1.0863,1)" font-size="35.00" fill="#000" >St Anton am Arlberg</text>
<rect x="3314.1" y="226.5" width="70.7" height="26.8" fill="#d6e6f4"/>
<text transform="translate(3411.07,252.10) scale(0.9438,1)" font-size="35.00" fill="#000" >N</text>
<text transform="translate(3443.80,252.10) scale(1.2322,1)" font-size="35.00" fill="#000" >≥</text>
<text transform="translate(3476.77,252.10) scale(1.0963,1)" font-size="35.00" fill="#000" >0.1mm/h</text>
<rect x="3314.1" y="276.1" width="70.7" height="26.8" fill="#b7d4ea"/>
<text transform="translate(3411.07,302.00) scale(0.9438,1)" font-size="35.00" fill="#000" >N</text>
<text transform="translate(3443.80,302.00) scale(1.2322,1)" font-size="35.00" fill="#000" >≥</text>
<text transform="translate(3476.77,302.00) scale(1.0963,1)" font-size="35.00" fill="#000" >0.5mm/h</text>
<rect x="3314.1" y="325.7" width="70.7" height="26.8" fill="#7fb5da"/>
<text transform="translate(3411.07,351.90) scale(0.9438,1)" font-size="35.00" fill="#000" >N</text>
<text transform="translate(3443.80,351.90) scale(1.2322,1)" font-size="35.00" fill="#000" >≥</text>
<text transform="translate(3477.44,351.90) scale(1.0983,1)" font-size="35.00" fill="#000" >4mm/h</text>
<rect x="3314.1" y="375.3" width="70.7" height="26.8" fill="#4a94c7"/>
<text transform="translate(3411.07,401.80) scale(0.9438,1)" font-size="35.00" fill="#000" >N</text>
<text transform="translate(3443.80,401.80) scale(1.2322,1)" font-size="35.00" fill="#000" >≥</text>
<text transform="translate(3475.42,401.80) scale(1.0964,1)" font-size="35.00" fill="#000" >10mm/h</text>
</svg></body></html>
